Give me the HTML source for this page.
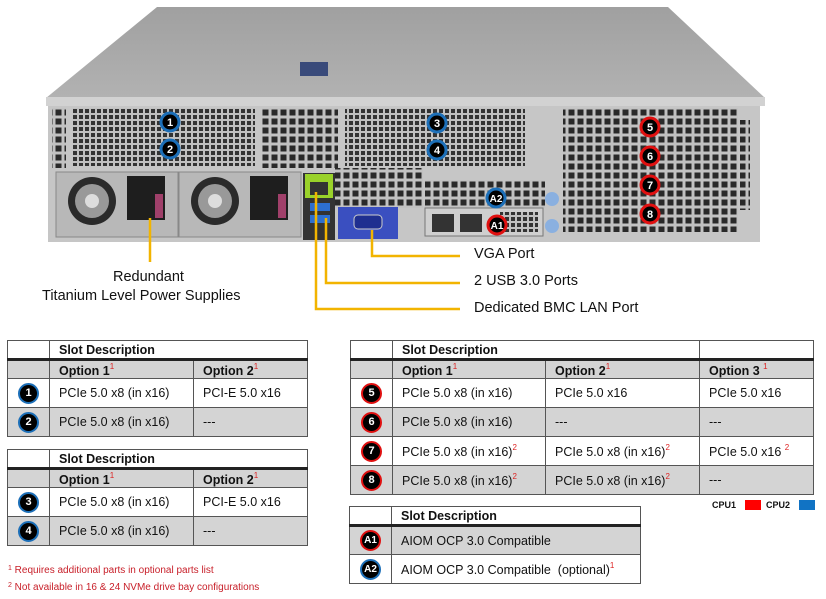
<!DOCTYPE html>
<html><head><meta charset="utf-8">
<style>
*{margin:0;padding:0;box-sizing:border-box}
body{width:826px;height:599px;background:#fff;position:relative;overflow:hidden;font-family:"Liberation Sans",Arial,sans-serif;color:#111}
.t{position:absolute;border-collapse:collapse;font-size:12.5px}
.t td{border:1px solid #555;padding:0 0 0 9px;height:29px;white-space:nowrap}
.t tr.h td{height:19px;font-weight:bold;font-size:12.5px;border-bottom:3px solid #222}
.t tr.o td{height:19px;font-weight:bold;background:#d4d4d4}
.t tr.g td{background:#d4d4d4}
.t td.b{padding:0;text-align:center}
sup{color:#d22;font-size:8px;vertical-align:6px;font-weight:normal}
.bd{display:inline-block;width:21px;height:21px;border-radius:50%;background:#000;color:#fff;font-weight:bold;font-size:11px;line-height:17px;text-align:center;border:2px solid #1c6fb8;vertical-align:middle}
.r{border-color:#e01010}
.lbl{position:absolute;font-size:14.5px;white-space:nowrap}
.fn{position:absolute;left:8px;font-size:10px;color:#c8202a}
.fn sup{font-size:7px;vertical-align:3px;color:#c8202a}
</style></head><body>
<svg width="826" height="330" style="position:absolute;left:0;top:0">
<defs>
<linearGradient id="lg" x1="0" y1="0" x2="0" y2="1"><stop offset="0" stop-color="#a0a0a0"/><stop offset="1" stop-color="#b2b2b2"/></linearGradient>
<pattern id="m" width="6" height="6" patternUnits="userSpaceOnUse"><rect width="6" height="6" fill="#c0c0c0"/><rect x="1" y="1" width="4" height="4" fill="#333"/></pattern>
<pattern id="m2" width="9" height="9" patternUnits="userSpaceOnUse"><rect width="9" height="9" fill="#c2c2c2"/><rect x="1.5" y="1.5" width="6" height="6" fill="#2a2a2a"/></pattern>
</defs>
<polygon points="157,7 668,7 765,98 46,98" fill="url(#lg)"/>
<rect x="300" y="62" width="28" height="14" fill="#394a7a"/>
<rect x="46" y="97" width="719" height="9" fill="#d2d2d2"/>
<rect x="48" y="106" width="712" height="136" fill="#c6c6c6"/>
<rect x="73" y="108" width="182" height="58" fill="url(#m)"/>
<rect x="262" y="108" width="76" height="60" fill="url(#m2)"/>
<rect x="345" y="108" width="180" height="58" fill="url(#m)"/>
<rect x="563" y="108" width="175" height="124" fill="url(#m2)"/>
<rect x="335" y="168" width="88" height="40" fill="url(#m2)"/>
<rect x="425" y="180" width="120" height="28" fill="url(#m2)"/>
<rect x="425" y="208" width="118" height="28" fill="#cfcfcf" stroke="#777"/>
<rect x="432" y="214" width="22" height="18" fill="#333"/><rect x="460" y="214" width="22" height="18" fill="#333"/>
<rect x="500" y="212" width="38" height="20" fill="url(#m)"/>
<rect x="52" y="108" width="14" height="60" fill="url(#m2)"/>
<rect x="740" y="120" width="10" height="90" fill="url(#m2)"/>
<g><rect x="56" y="172" width="122" height="65" fill="#b8b8b8" stroke="#888"/>
<circle cx="92" cy="201" r="24" fill="#2a2a2a"/><circle cx="92" cy="201" r="17" fill="#999"/><circle cx="92" cy="201" r="7" fill="#ddd"/>
<rect x="127" y="176" width="38" height="44" fill="#1e1e1e"/><rect x="155" y="194" width="8" height="24" fill="#a0406a"/></g>
<g><rect x="179" y="172" width="122" height="65" fill="#b8b8b8" stroke="#888"/>
<circle cx="215" cy="201" r="24" fill="#2a2a2a"/><circle cx="215" cy="201" r="17" fill="#999"/><circle cx="215" cy="201" r="7" fill="#ddd"/>
<rect x="250" y="176" width="38" height="44" fill="#1e1e1e"/><rect x="278" y="194" width="8" height="24" fill="#a0406a"/></g>
<rect x="303" y="173" width="32" height="67" fill="#333"/>
<rect x="305" y="174" width="28" height="24" fill="#9ad22a"/><rect x="310" y="182" width="18" height="13" fill="#333"/>
<rect x="310" y="203" width="20" height="8" fill="#2d6fd0"/><rect x="310" y="215" width="20" height="8" fill="#2d6fd0"/>
<rect x="338" y="207" width="60" height="32" fill="#3a4fc0"/><rect x="354" y="215" width="28" height="14" rx="4" fill="#1f2f90" stroke="#ccc"/>
<circle cx="552" cy="199" r="7" fill="#8ab0e0"/><circle cx="552" cy="226" r="7" fill="#8ab0e0"/>
<g stroke="#f2b400" stroke-width="2.5" fill="none">
<path d="M150 218V262"/>
<path d="M372 230V256H460"/>
<path d="M326 218V283H460"/>
<path d="M316 192V309H460"/>
</g>
<g font-family="Liberation Sans,Arial" font-weight="bold" font-size="11" fill="#fff" text-anchor="middle">
<g stroke="#1c6fb8" stroke-width="3">
<circle cx="170" cy="122" r="9" fill="#000"/><circle cx="170" cy="149" r="9" fill="#000"/>
<circle cx="437" cy="123" r="9" fill="#000"/><circle cx="437" cy="150" r="9" fill="#000"/>
<circle cx="496" cy="198" r="9" fill="#000"/></g>
<g stroke="#e01010" stroke-width="3">
<circle cx="650" cy="127" r="9" fill="#000"/><circle cx="650" cy="156" r="9" fill="#000"/>
<circle cx="650" cy="185" r="9" fill="#000"/><circle cx="650" cy="214" r="9" fill="#000"/>
<circle cx="497" cy="225" r="9" fill="#000"/></g>
<text x="170" y="126">1</text><text x="170" y="153">2</text><text x="437" y="127">3</text><text x="437" y="154">4</text>
<text x="650" y="131">5</text><text x="650" y="160">6</text><text x="650" y="189">7</text><text x="650" y="218">8</text>
<text x="496" y="202" font-size="10">A2</text><text x="497" y="229" font-size="10">A1</text>
</g>
</svg>
<div class="lbl" style="left:113px;top:269px">Redundant</div>
<div class="lbl" style="left:42px;top:288px">Titanium Level Power Supplies</div>
<div class="lbl" style="left:474px;top:246px">VGA Port</div>
<div class="lbl" style="left:474px;top:273px">2 USB 3.0 Ports</div>
<div class="lbl" style="left:474px;top:300px">Dedicated BMC LAN Port</div>

<table class="t" style="left:7px;top:340px;width:301px">
<tr class="h"><td style="width:42px"></td><td colspan="2">Slot Description</td></tr>
<tr class="o"><td></td><td style="width:144px">Option 1<sup>1</sup></td><td>Option 2<sup>1</sup></td></tr>
<tr><td class="b"><span class="bd">1</span></td><td>PCIe 5.0 x8 (in x16)</td><td>PCI-E 5.0 x16</td></tr>
<tr class="g"><td class="b"><span class="bd">2</span></td><td>PCIe 5.0 x8 (in x16)</td><td>---</td></tr>
</table>
<table class="t" style="left:7px;top:449px;width:301px">
<tr class="h"><td style="width:42px"></td><td colspan="2">Slot Description</td></tr>
<tr class="o"><td></td><td style="width:144px">Option 1<sup>1</sup></td><td>Option 2<sup>1</sup></td></tr>
<tr><td class="b"><span class="bd">3</span></td><td>PCIe 5.0 x8 (in x16)</td><td>PCI-E 5.0 x16</td></tr>
<tr class="g"><td class="b"><span class="bd">4</span></td><td>PCIe 5.0 x8 (in x16)</td><td>---</td></tr>
</table>
<div class="fn" style="top:565px"><sup>1</sup> Requires additional parts in optional parts list</div>
<div class="fn" style="top:582px"><sup>2</sup> Not available in 16 &amp; 24 NVMe drive bay configurations</div>

<table class="t" style="left:350px;top:340px;width:464px">
<tr class="h"><td style="width:42px"></td><td colspan="2">Slot Description</td><td></td></tr>
<tr class="o"><td></td><td style="width:153px">Option 1<sup>1</sup></td><td style="width:154px">Option 2<sup>1</sup></td><td>Option 3 <sup>1</sup></td></tr>
<tr><td class="b"><span class="bd r">5</span></td><td>PCIe 5.0 x8 (in x16)</td><td>PCIe 5.0 x16</td><td>PCIe 5.0 x16</td></tr>
<tr class="g"><td class="b"><span class="bd r">6</span></td><td>PCIe 5.0 x8 (in x16)</td><td>---</td><td>---</td></tr>
<tr><td class="b"><span class="bd r">7</span></td><td>PCIe 5.0 x8 (in x16)<sup>2</sup></td><td>PCIe 5.0 x8 (in x16)<sup>2</sup></td><td>PCIe 5.0 x16 <sup>2</sup></td></tr>
<tr class="g"><td class="b"><span class="bd r">8</span></td><td>PCIe 5.0 x8 (in x16)<sup>2</sup></td><td>PCIe 5.0 x8 (in x16)<sup>2</sup></td><td>---</td></tr>
</table>
<div style="position:absolute;left:712px;top:500px;font-size:9px;font-weight:bold">CPU1</div>
<div style="position:absolute;left:745px;top:500px;width:16px;height:10px;background:#f00"></div>
<div style="position:absolute;left:766px;top:500px;font-size:9px;font-weight:bold">CPU2</div>
<div style="position:absolute;left:799px;top:500px;width:16px;height:10px;background:#1173c4"></div>

<table class="t" style="left:349px;top:506px;width:292px">
<tr class="h"><td style="width:42px"></td><td>Slot Description</td></tr>
<tr class="g"><td class="b"><span class="bd r" style="font-size:10px">A1</span></td><td>AIOM OCP 3.0 Compatible</td></tr>
<tr><td class="b"><span class="bd" style="font-size:10px">A2</span></td><td>AIOM OCP 3.0 Compatible &nbsp;(optional)<sup>1</sup></td></tr>
</table>
</body></html>
